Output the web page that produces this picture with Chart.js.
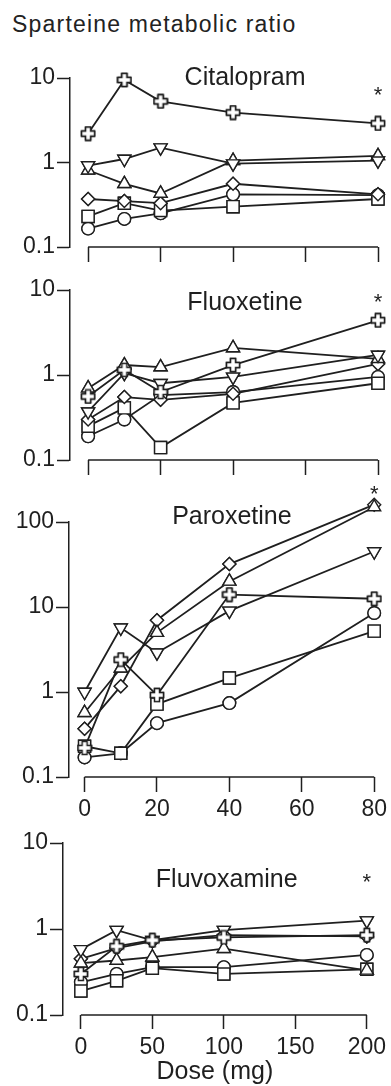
<!DOCTYPE html>
<html>
<head>
<meta charset="utf-8">
<script src="https://cdn.jsdelivr.net/npm/chart.js@4/dist/chart.umd.min.js"></script>
<style>
  html, body { margin: 0; padding: 0; background: #fff; overflow: hidden; width: 391px; height: 1086px; }
  canvas { position: absolute; left: 0; top: 0; }
  #ytitle { position: absolute; left: 12px; top: 13px; font: 23px "Liberation Sans", Arial, sans-serif;
            letter-spacing: 1.2px; line-height: 23px; color: #222; white-space: nowrap; }
</style>
</head>
<body>
<div id="ytitle">Sparteine metabolic ratio</div>
<canvas id="cital" width="391" height="1100"></canvas>
<canvas id="fluox" width="391" height="1100"></canvas>
<canvas id="parox" width="391" height="1100"></canvas>
<canvas id="fluvox" width="391" height="1100"></canvas>
<script>
// doses (mg)
const dosesSsri = [0, 10, 20, 40, 80]
const dosesFluvox = [0, 25, 50, 100, 200]
const xTicksSsri = [0, 20, 40, 60, 80]
const xTicksFluvox = [0, 50, 100, 150, 200]
const yTicksShort = [0.1, 1, 10]
const yTicksLong = [0.1, 1, 10, 100]

// one row per subject, marker order: plus, down triangle, up triangle, diamond, square, circle
const markers = ['plus', 'downTri', 'upTri', 'diamond', 'square', 'circle']

const citalopram = [
  [2.2, 9.5, 5.3, 3.9, 2.9],
  [0.92, 1.1, 1.5, 0.97, 1.05],
  [0.81, 0.56, 0.43, 1.05, 1.2],
  [0.37, 0.35, 0.33, 0.56, 0.42],
  [0.23, 0.33, 0.27, 0.30, 0.37],
  [0.165, 0.215, 0.25, 0.42, 0.41]
]
const fluoxetine = [
  [0.56, 1.15, 0.63, 1.31, 4.4],
  [0.37, 1.05, 0.8, 0.95, 1.72],
  [0.70, 1.31, 1.24, 2.08, 1.55],
  [0.30, 0.55, 0.51, 0.6, 1.35],
  [0.25, 0.41, 0.14, 0.47, 0.8],
  [0.19, 0.30, 0.58, 0.63, 0.95]
]
const paroxetine = [
  [0.22, 2.4, 0.92, 14, 12.5],
  [1.0, 5.7, 2.9, 9, 45],
  [0.57, 1.9, 5.0, 20, 150],
  [0.37, 1.17, 7.0, 32, 160],
  [0.23, 0.19, 0.72, 1.46, 5.2],
  [0.17, 0.19, 0.43, 0.74, 8.5]
]
const fluvoxamine = [
  [0.30, 0.63, 0.74, 0.80, 0.85],
  [0.58, 0.97, 0.74, 0.97, 1.25],
  [0.40, 0.43, 0.47, 0.59, 0.33],
  [0.45, 0.60, 0.72, 0.85, 0.82],
  [0.19, 0.25, 0.35, 0.30, 0.34],
  [0.24, 0.30, 0.36, 0.36, 0.50]
]

const INK = '#1f1f1f'
const FONT = '"Liberation Sans", Arial, sans-serif'
Chart.defaults.font.family = FONT
Chart.defaults.color = INK

// hollow greek cross marker
const plusImg = (() => {
  const c = document.createElement('canvas')
  c.width = 16; c.height = 16
  const g = c.getContext('2d')
  const m = 8, a = 2.5, r = 6.5
  const pts = [[-a,-r],[a,-r],[a,-a],[r,-a],[r,a],[a,a],[a,r],[-a,r],[-a,a],[-r,a],[-r,-a],[-a,-a]]
  g.beginPath()
  pts.forEach(([px, py], i) => i ? g.lineTo(m + px, m + py) : g.moveTo(m + px, m + py))
  g.closePath()
  g.fillStyle = '#fff'; g.fill()
  g.lineWidth = 1.5; g.strokeStyle = INK; g.stroke()
  return c
})()

const markerStyle = {
  plus: { pointStyle: plusImg, pointRadius: 7 },
  downTri: { pointStyle: 'triangle', pointRadius: 7.5, pointRotation: 180 },
  upTri: { pointStyle: 'triangle', pointRadius: 7.5, pointRotation: 0 },
  diamond: { pointStyle: 'rectRot', pointRadius: 6.5 },
  square: { pointStyle: 'rect', pointRadius: 8.5 },
  circle: { pointStyle: 'circle', pointRadius: 6.3 }
}

// markers on top of all lines (also those above the axis top), x axis line, panel name, asterisk
const panelDecor = {
  id: 'panelDecor',
  afterDatasetsDraw(chart, args, opts) {
    const { ctx, chartArea } = chart
    const { x, y } = chart.scales

    for (let i = chart.data.datasets.length - 1; i >= 0; i--) {
      chart.getDatasetMeta(i).data.forEach(p => p.draw(ctx))
    }

    ctx.save()
    ctx.strokeStyle = INK
    ctx.lineWidth = 1.5
    ctx.beginPath()
    ctx.moveTo(x.getPixelForValue(opts.xFrom), chartArea.bottom)
    ctx.lineTo(x.getPixelForValue(opts.xTo), chartArea.bottom)
    ctx.stroke()

    ctx.fillStyle = INK
    ctx.textAlign = 'center'
    ctx.textBaseline = 'middle'
    ctx.font = '25px ' + FONT
    ctx.fillText(opts.name, x.getPixelForValue(opts.nameAt[0]), y.getPixelForValue(opts.nameAt[1]))

    ctx.font = '22px ' + FONT
    ctx.textBaseline = 'alphabetic'
    ctx.fillText('*', x.getPixelForValue(opts.starAt[0]), y.getPixelForValue(opts.starAt[1]) + 12)
    ctx.restore()
  }
}

const makePanel = (id, cfg) => new Chart(document.getElementById(id), {
  type: 'line',
  data: {
    datasets: cfg.rows.map((row, i) => ({
      data: row.map((v, j) => ({ x: cfg.doses[j], y: v })),
      borderColor: INK,
      borderWidth: 1.8,
      pointBackgroundColor: '#fff',
      pointBorderColor: INK,
      pointBorderWidth: 1.4,
      tension: 0,
      clip: false,
      ...markerStyle[markers[i]]
    }))
  },
  options: {
    responsive: false,
    animation: false,
    devicePixelRatio: 1,
    events: [],
    layout: {
      padding: { left: 0, top: cfg.area.top, right: 391 - cfg.area.right, bottom: 1100 - cfg.area.bottom - cfg.xHeight }
    },
    scales: {
      x: {
        type: 'linear',
        min: cfg.xMin,
        max: cfg.xTicks[cfg.xTicks.length - 1],
        afterBuildTicks: s => { s.ticks = cfg.xTicks.map(v => ({ value: v })) },
        afterFit: s => { s.height = cfg.xHeight },
        grid: { drawOnChartArea: false, drawTicks: true, tickLength: cfg.xTickLen, tickWidth: 1.5, tickColor: INK },
        border: { display: false },
        ticks: { display: cfg.showX, autoSkip: false, maxRotation: 0, padding: cfg.xPad, font: { size: 23 }, color: INK },
        title: { display: !!cfg.xTitle, text: cfg.xTitle || '', font: { size: 25 }, color: INK, padding: { top: 0, bottom: 0 } }
      },
      y: {
        type: 'logarithmic',
        min: cfg.yTicks[0],
        max: cfg.yTicks[cfg.yTicks.length - 1],
        afterBuildTicks: s => { s.ticks = cfg.yTicks.map(v => ({ value: v })) },
        afterFit: s => { s.width = cfg.area.left },
        grid: { drawOnChartArea: false, drawTicks: true, tickLength: 13, tickWidth: 1.5, tickColor: INK },
        border: { display: true, color: INK, width: 1.5 },
        ticks: { autoSkip: false, padding: 2, font: { size: 23 }, color: INK, callback: v => String(v) }
      }
    },
    plugins: {
      legend: { display: false },
      tooltip: { enabled: false },
      panelDecor: { xFrom: 0, xTo: cfg.xTicks[cfg.xTicks.length - 1], name: cfg.name, nameAt: cfg.nameAt, starAt: cfg.starAt }
    }
  },
  plugins: [panelDecor]
})

makePanel('cital', {
  rows: citalopram, doses: dosesSsri, xTicks: xTicksSsri, yTicks: yTicksShort, xMin: -5,
  area: { left: 70, right: 378, top: 78, bottom: 247 }, xHeight: 40, xTickLen: 15, xPad: 4, showX: false,
  name: 'Citalopram', nameAt: [43.3, 10], starAt: [80, 7.3]
})
makePanel('fluox', {
  rows: fluoxetine, doses: dosesSsri, xTicks: xTicksSsri, yTicks: yTicksShort, xMin: -5,
  area: { left: 70, right: 378, top: 290, bottom: 460 }, xHeight: 40, xTickLen: 15, xPad: 4, showX: false,
  name: 'Fluoxetine', nameAt: [43.3, 7.0], starAt: [80, 8.3]
})
makePanel('parox', {
  rows: paroxetine, doses: dosesSsri, xTicks: xTicksSsri, yTicks: yTicksLong, xMin: -4.3,
  area: { left: 69, right: 376, top: 522, bottom: 777 }, xHeight: 50, xTickLen: 15, xPad: 4, showX: true,
  name: 'Paroxetine', nameAt: [40.7, 114], starAt: [80, 245]
})
makePanel('fluvox', {
  rows: fluvoxamine, doses: dosesFluvox, xTicks: xTicksFluvox, yTicks: yTicksShort, xMin: -12.5,
  area: { left: 63, right: 372, top: 843, bottom: 1015 }, xHeight: 72, xTickLen: 14, xPad: 5, showX: true,
  xTitle: 'Dose (mg)',
  name: 'Fluvoxamine', nameAt: [102, 3.7], starAt: [200, 4.0]
})
</script>
</body>
</html>
